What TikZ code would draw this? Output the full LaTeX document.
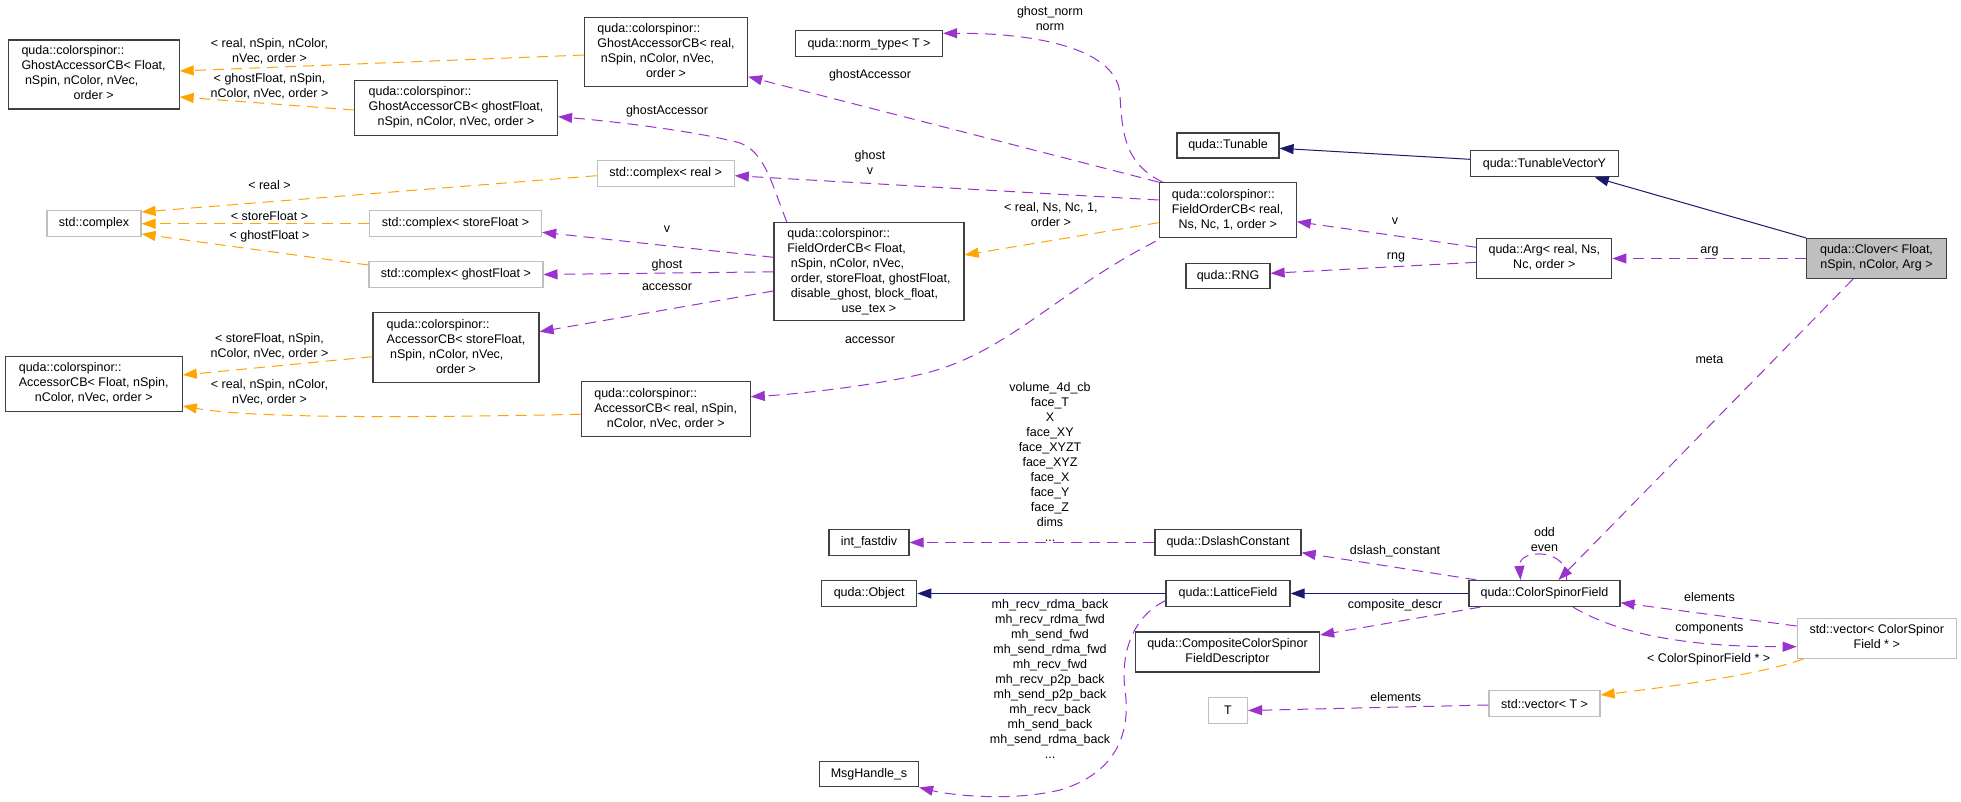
\documentclass[tikz,border=0pt]{standalone}
\usepackage{fontspec}
\setmainfont{Liberation Sans}
\usetikzlibrary{arrows.meta}
\definecolor{dxorange}{HTML}{FFA500}
\definecolor{dxpurple}{HTML}{9A32CD}
\definecolor{dxnavy}{HTML}{191970}
\definecolor{dxgray}{HTML}{BFBFBF}
\definecolor{dxborder}{HTML}{404040}
\newcommand{\fs}{\fontsize{12.5}{15}\selectfont}
\newcommand{\tb}[1]{\begin{tabular}{@{}l@{}}#1\end{tabular}}
\newcommand{\lc}[1]{\multicolumn{1}{@{}c@{}}{#1}}
\newcommand{\ind}{\hspace*{3.5pt}}
\begin{document}
\begin{tikzpicture}[x=1pt,y=-1pt,
  box/.style={draw=dxborder, line width=1.2pt, inner sep=0pt, font=\fs, rectangle},
  gbox/.style={box, draw=dxgray},
  lbl/.style={font=\fs, inner sep=0pt, align=center},
  tipa/.style={-{Triangle[length=14pt,width=10pt]}},
  oe/.style={draw=dxorange, line width=1pt, dash pattern=on 11pt off 7pt, tipa},
  pe/.style={draw=dxpurple, line width=1pt, dash pattern=on 11pt off 7pt, tipa},
  ne/.style={draw=dxnavy, line width=1pt, tipa}]
\fill[white] (0,0) rectangle (1961,802);
\useasboundingbox (0,0) rectangle (1961,802);

% ---- nodes ----
\node[box, minimum width=171pt, minimum height=69pt] (gaF) at (93.6,74.5)
  {\tb{quda::colorspinor::\\GhostAccessorCB< Float,\\\ind nSpin, nColor, nVec,\\\lc{order >}}};
\node[box, minimum width=203pt, minimum height=55pt] (gaG) at (456,107.7)
  {\tb{quda::colorspinor::\\GhostAccessorCB< ghostFloat,\\\lc{nSpin, nColor, nVec, order >}}};
\node[box, minimum width=163pt, minimum height=69pt] (gaR) at (666,52)
  {\tb{quda::colorspinor::\\GhostAccessorCB< real,\\\ind nSpin, nColor, nVec,\\\lc{order >}}};
\node[gbox, minimum width=94pt, minimum height=26pt] (cplx) at (94,223.7) {std::complex};
\node[gbox, minimum width=172pt, minimum height=26pt] (cS) at (455.6,223.7) {std::complex< storeFloat >};
\node[gbox, minimum width=174pt, minimum height=26pt] (cG) at (455.9,274.5) {std::complex< ghostFloat >};
\node[gbox, minimum width=137pt, minimum height=26pt] (cR) at (665.7,173.2) {std::complex< real >};
\node[box, minimum width=166pt, minimum height=70pt] (acS) at (456,347.7)
  {\tb{quda::colorspinor::\\AccessorCB< storeFloat,\\\ind nSpin, nColor, nVec,\\\lc{order >}}};
\node[box, minimum width=177pt, minimum height=55pt] (acF) at (93.7,383.7)
  {\tb{quda::colorspinor::\\AccessorCB< Float, nSpin,\\\lc{nColor, nVec, order >}}};
\node[box, minimum width=169pt, minimum height=55pt] (acR) at (665.7,409.2)
  {\tb{quda::colorspinor::\\AccessorCB< real, nSpin,\\\lc{nColor, nVec, order >}}};
\node[box, minimum width=147pt, minimum height=26pt] (norm) at (869,43.8) {quda::norm\_type< T >};
\node[box, minimum width=190pt, minimum height=98pt] (foF) at (869,271.8)
  {\tb{quda::colorspinor::\\FieldOrderCB< Float,\\\ind nSpin, nColor, nVec,\\\ind order, storeFloat, ghostFloat,\\\ind disable\_ghost, block\_float,\\\lc{use\_tex >}}};
\node[box, minimum width=137pt, minimum height=55pt] (foR) at (1227.7,210.2)
  {\tb{quda::colorspinor::\\FieldOrderCB< real,\\\lc{Ns, Nc, 1, order >}}};
\node[box, minimum width=102pt, minimum height=25pt] (tun) at (1228,145.5) {quda::Tunable};
\node[box, minimum width=84pt, minimum height=25pt] (rng) at (1228,275.8) {quda::RNG};
\node[box, minimum width=148pt, minimum height=26pt] (tvy) at (1544.4,163.8) {quda::TunableVectorY};
\node[box, minimum width=135pt, minimum height=40pt] (arg) at (1544.3,258.5)
  {\tb{quda::Arg< real, Ns,\\\lc{Nc, order >}}};
\node[box, fill=dxgray, minimum width=140pt, minimum height=40pt] (clover) at (1876.5,258.5)
  {\tb{quda::Clover< Float,\\\lc{nSpin, nColor, Arg >}}};
\node[box, minimum width=80pt, minimum height=26pt] (ifd) at (869,542.5) {int\_fastdiv};
\node[box, minimum width=146pt, minimum height=26pt] (dsc) at (1228,542.5) {quda::DslashConstant};
\node[box, minimum width=95pt, minimum height=26pt] (obj) at (869.2,593.5) {quda::Object};
\node[box, minimum width=124pt, minimum height=26pt] (lat) at (1228,593.5) {quda::LatticeField};
\node[box, minimum width=184pt, minimum height=40pt] (ccsfd) at (1227.5,652)
  {\tb{\lc{quda::CompositeColorSpinor}\\\lc{FieldDescriptor}}};
\node[gbox, minimum width=39pt, minimum height=26pt] (tT) at (1228,710.5) {T};
\node[box, minimum width=99pt, minimum height=25pt] (msg) at (869,774.3) {MsgHandle\_s};
\node[box, minimum width=151pt, minimum height=26pt] (csf) at (1544.5,593.5) {quda::ColorSpinorField};
\node[gbox, minimum width=159pt, minimum height=40pt] (vcsf) at (1876.7,638.3)
  {\tb{\lc{std::vector< ColorSpinor}\\\lc{Field * >}}};
\node[gbox, minimum width=111pt, minimum height=26pt] (vT) at (1544.5,703.8) {std::vector< T >};

% ---- orange edges ----
\draw[oe] ([yshift=-3pt]gaR.west) -- ([yshift=3.5pt]gaF.east);
\draw[oe] ([yshift=-2.3pt]gaG.west) -- ([yshift=-22.5pt]gaF.east);
\draw[oe] ([yshift=-2.5pt]cR.west) -- ([yshift=11.7pt]cplx.east);
\draw[oe] (cS.west) -- (cplx.east);
\draw[oe] ([yshift=9.5pt]cG.west) -- ([yshift=-10.3pt]cplx.east);
\draw[oe] ([yshift=-9pt]acS.west) -- ([yshift=8.7pt]acF.east);
\draw[oe] ([yshift=-5.1pt]acR.west) .. controls (400,418) and (250,418) .. ([yshift=-22.3pt]acF.east);
\draw[oe] ([yshift=-12.5pt]foR.west) -- ([yshift=16.8pt]foF.east);
\draw[oe] ([xshift=7pt]vcsf.south west) .. controls (1760,675) and (1660,688) .. ([yshift=8.8pt]vT.east);

% ---- purple edges ----
\draw[pe] ([xshift=13.5pt]foF.north west) .. controls (772,185) and (765,152) .. (740,143)
  .. controls (700,132) and (620,122) .. ([yshift=-9pt]gaG.east);
\draw[pe] (foR.north west) -- ([yshift=-24.7pt]gaR.east);
\draw[pe] ([xshift=4pt]foR.north west) .. controls (1128,165) and (1122,140) .. (1120,95)
  .. controls (1118,50) and (1040,33) .. ([yshift=10.5pt]norm.east);
\draw[pe] ([yshift=10.2pt]foR.west) -- ([yshift=-2.5pt]cR.east);
\draw[pe] ([yshift=14.5pt]foF.west) -- ([yshift=-8.6pt]cS.east);
\draw[pe] (foF.west) -- (cG.east);
\draw[pe] ([yshift=-19.2pt]foF.west) -- ([yshift=16pt]acS.east);
\draw[pe] ([xshift=-3pt,yshift=-3pt]foR.south west) .. controls (1060,290) and (1010,350) .. (930,372)
  .. controls (880,385) and (800,394) .. ([yshift=12.5pt]acR.east);
\draw[pe] ([yshift=11.2pt]arg.west) -- ([yshift=-11.5pt]foR.east);
\draw[pe] ([yshift=-3.8pt]arg.west) -- ([yshift=2.5pt]rng.east);
\draw[pe] (clover.west) -- (arg.east);
\draw[pe] ([xshift=-23.5pt]clover.south) -- ([xshift=14pt]csf.north);
\draw[pe] ([xshift=22pt]csf.north) .. controls (1570,548) and (1518,548) .. ([xshift=-24pt]csf.north);
\draw[pe] ([xshift=8pt]csf.north west) -- ([yshift=-10.2pt]dsc.east);
\draw[pe] ([xshift=12pt]csf.south west) -- ([yshift=17pt]ccsfd.east);
\draw[pe] ([yshift=12.3pt]vcsf.west) -- ([yshift=-9.2pt]csf.east);
\draw[pe] ([xshift=28.5pt]csf.south) .. controls (1620,635) and (1690,647) .. ([yshift=-8.4pt]vcsf.west);
\draw[pe] ([yshift=-1.2pt]vT.west) -- (tT.east);
\draw[pe] (dsc.west) -- (ifd.east);
\draw[pe] ([yshift=-7.2pt]lat.west) .. controls (1135,615) and (1120,650) .. (1125,690)
  .. controls (1132,740) and (1110,775) .. (1060,790)
  .. controls (1010,802) and (950,795) .. (msg.south east);

% ---- navy edges ----
\draw[ne] ([yshift=4.5pt]tvy.west) -- ([yshift=-2.8pt]tun.east);
\draw[ne] (clover.north west) -- ([xshift=50.3pt]tvy.south);
\draw[ne] (lat.west) -- (obj.east);
\draw[ne] (csf.west) -- (lat.east);

% ---- labels ----
\node[lbl] (l1) at (269.5,51.2) {< real, nSpin, nColor,\\nVec, order >};
\node[lbl] (l2) at (269.5,86) {< ghostFloat, nSpin,\\nColor, nVec, order >};
\node[lbl] (l3) at (269.5,185) {< real >};
\node[lbl] (l4) at (269.5,216) {< storeFloat >};
\node[lbl] (l5) at (269.5,236) {< ghostFloat >};
\node[lbl] (l6) at (269.5,346) {< storeFloat, nSpin,\\nColor, nVec, order >};
\node[lbl] (l7) at (269.5,392) {< real, nSpin, nColor,\\nVec, order >};
\node[lbl] (l8) at (1050.9,215) {< real, Ns, Nc, 1,\\order >};
\node[lbl] (l9) at (1708.7,659) {< ColorSpinorField * >};
\node[lbl] (m1) at (667,111.7) {ghostAccessor};
\node[lbl] (m2) at (870,75.7) {ghostAccessor};
\node[lbl] (m3) at (1050,19) {ghost\_norm\\norm};
\node[lbl] (m4) at (870,162) {ghost\\v};
\node[lbl] (m5) at (667,229) {v};
\node[lbl] (m6) at (667,265) {ghost};
\node[lbl] (m7) at (667,286.7) {accessor};
\node[lbl] (m8) at (870,340) {accessor};
\node[lbl] (m9) at (1395,220.7) {v};
\node[lbl] (m10) at (1396,257.3) {rng};
\node[lbl] (m11) at (1709.4,251.7) {arg};
\node[lbl] (m12) at (1709.4,360) {meta};
\node[lbl] (m13) at (1544.5,540) {odd\\even};
\node[lbl] (m14) at (1395,551.7) {dslash\_constant};
\node[lbl] (m15) at (1395,605) {composite\_descr};
\node[lbl] (m16) at (1709.4,596.7) {elements};
\node[lbl] (m17) at (1709.4,628.3) {components};
\node[lbl] (m18) at (1395.7,696.7) {elements};
\node[lbl] (m19) at (1050,462) {volume\_4d\_cb\\face\_T\\X\\face\_XY\\face\_XYZT\\face\_XYZ\\face\_X\\face\_Y\\face\_Z\\dims\\...};
\node[lbl] (m20) at (1050,679) {mh\_recv\_rdma\_back\\mh\_recv\_rdma\_fwd\\mh\_send\_fwd\\mh\_send\_rdma\_fwd\\mh\_recv\_fwd\\mh\_recv\_p2p\_back\\mh\_send\_p2p\_back\\mh\_recv\_back\\mh\_send\_back\\mh\_send\_rdma\_back\\...};
\end{tikzpicture}
\end{document}
